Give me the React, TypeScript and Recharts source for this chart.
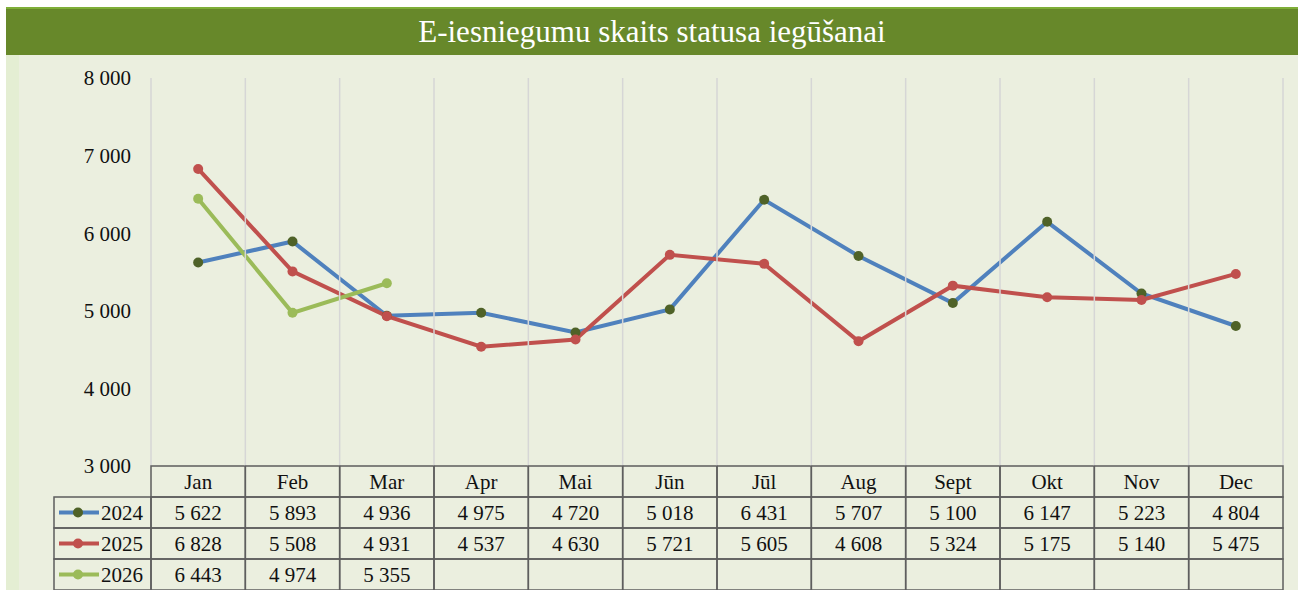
import React from "react";
import { LineChart, Line, XAxis, YAxis } from "recharts";

// Month categories and yearly series
const months = ["Jan", "Feb", "Mar", "Apr", "Mai", "Jūn", "Jūl", "Aug", "Sept", "Okt", "Nov", "Dec"];
const values2024 = [5622, 5893, 4936, 4975, 4720, 5018, 6431, 5707, 5100, 6147, 5223, 4804];
const values2025 = [6828, 5508, 4931, 4537, 4630, 5721, 5605, 4608, 5324, 5175, 5140, 5475];
const values2026 = [6443, 4974, 5355];
const yTicks = [3000, 4000, 5000, 6000, 7000, 8000];

const series = [
	{ key: "y2024", name: "2024", values: values2024, line: "#4f81bd", dot: "#4f6228" },
	{ key: "y2025", name: "2025", values: values2025, line: "#c0504d", dot: "#c0504d" },
	{ key: "y2026", name: "2026", values: values2026, line: "#9bbb59", dot: "#9bbb59" },
];

const chartData = months.map((month, i) => ({
	month,
	y2024: values2024[i] ?? null,
	y2025: values2025[i] ?? null,
	y2026: values2026[i] ?? null,
}));

const FONT = "'Liberation Serif', 'Times New Roman', serif";
const PLOT_TOP = 78;
const ROW_H = 31;
const TABLE_LEFT = 54;
const BORDER = "#5e5e5e";
const GRID = "#d6d6d6";

const fmt = (n: number) => String(n).replace(/\B(?=(\d{3})+(?!\d))/g, " ");

// draws one column of the data table under each month, plus grid lines
function TableTick(props: any) {
	const { x, y, payload, index } = props;
	const half = payload.offset || 0;
	const left = x - half;
	const right = x + half;
	const last = index === months.length - 1;

	return (
		<g>
			<line x1={left} x2={left} y1={PLOT_TOP} y2={y} stroke={GRID} strokeWidth={1.5} />
			{last && <line x1={right} x2={right} y1={PLOT_TOP} y2={y} stroke={GRID} strokeWidth={1.5} />}
			<rect x={left} y={y} width={half * 2} height={ROW_H} fill="none" stroke={BORDER} strokeWidth={1.5} />
			<text x={x} y={y + ROW_H / 2} dy="0.35em" textAnchor="middle" fontSize={21} fontFamily={FONT} fill="#111">
				{payload.value}
			</text>
			{series.map((s, r) => {
				const v = s.values[index];
				const top = y + ROW_H * (r + 1);
				return (
					<g key={s.key}>
						<rect x={left} y={top} width={half * 2} height={ROW_H} fill="none" stroke={BORDER} strokeWidth={1.5} />
						{v != null && (
							<text x={x} y={top + ROW_H / 2} dy="0.35em" textAnchor="middle" fontSize={21} fontFamily={FONT} fill="#111">
								{fmt(v)}
							</text>
						)}
						{index === 0 && (
							<g>
								<rect x={TABLE_LEFT} y={top} width={left - TABLE_LEFT} height={ROW_H} fill="none" stroke={BORDER} strokeWidth={1.5} />
								<line x1={TABLE_LEFT + 5} x2={TABLE_LEFT + 45} y1={top + ROW_H / 2} y2={top + ROW_H / 2} stroke={s.line} strokeWidth={4} />
								<circle cx={TABLE_LEFT + 24} cy={top + ROW_H / 2} r={5} fill={s.dot} />
								<text x={TABLE_LEFT + 47} y={top + ROW_H / 2} dy="0.35em" fontSize={21} fontFamily={FONT} fill="#111">
									{s.name}
								</text>
							</g>
						)}
					</g>
				);
			})}
		</g>
	);
}

export default function App() {
	return (
		<div style={{ position: "relative", width: 1298, height: 590, background: "#fff", overflow: "hidden" }}>
			<style>{"body{margin:0}"}</style>
			<div style={{ position: "absolute", left: 6, top: 7, width: 1292, height: 2, background: "#7fae38" }} />
			<div
				style={{
					position: "absolute",
					left: 6,
					top: 9,
					width: 1292,
					height: 46,
					background: "#67882a",
					color: "#fff",
					fontFamily: FONT,
					fontSize: 31,
					lineHeight: "46px",
					textAlign: "center",
				}}
			>
				E-iesniegumu skaits statusa iegūšanai
			</div>
			<div style={{ position: "absolute", left: 6, top: 55, width: 1292, height: 535, background: "#ebefdf" }} />
			<div style={{ position: "absolute", left: 6, top: 55, width: 13, height: 535, background: "#e4eed3" }} />
			<div style={{ position: "absolute", left: 0, top: 0 }}>
				<LineChart width={1298} height={590} data={chartData} margin={{ top: PLOT_TOP, right: 15, bottom: 0, left: 0 }}>
					<XAxis
						dataKey="month"
						scale="band"
						height={124}
						axisLine={false}
						tickLine={false}
						tickSize={0}
						tickMargin={0}
						interval={0}
						tick={<TableTick />}
					/>
					<YAxis
						domain={[3000, 8000]}
						ticks={yTicks}
						width={151}
						axisLine={false}
						tickLine={false}
						tickSize={0}
						tickMargin={20}
						tickFormatter={fmt}
						tick={{ fontSize: 21, fontFamily: FONT, fill: "#111" }}
					/>
					{series.map((s) => (
						<Line
							key={s.key}
							dataKey={s.key}
							name={s.name}
							type="linear"
							stroke={s.line}
							strokeWidth={4}
							dot={{ r: 5, fill: s.dot, stroke: s.dot, strokeWidth: 0 }}
							activeDot={false}
							isAnimationActive={false}
						/>
					))}
				</LineChart>
			</div>
		</div>
	);
}
